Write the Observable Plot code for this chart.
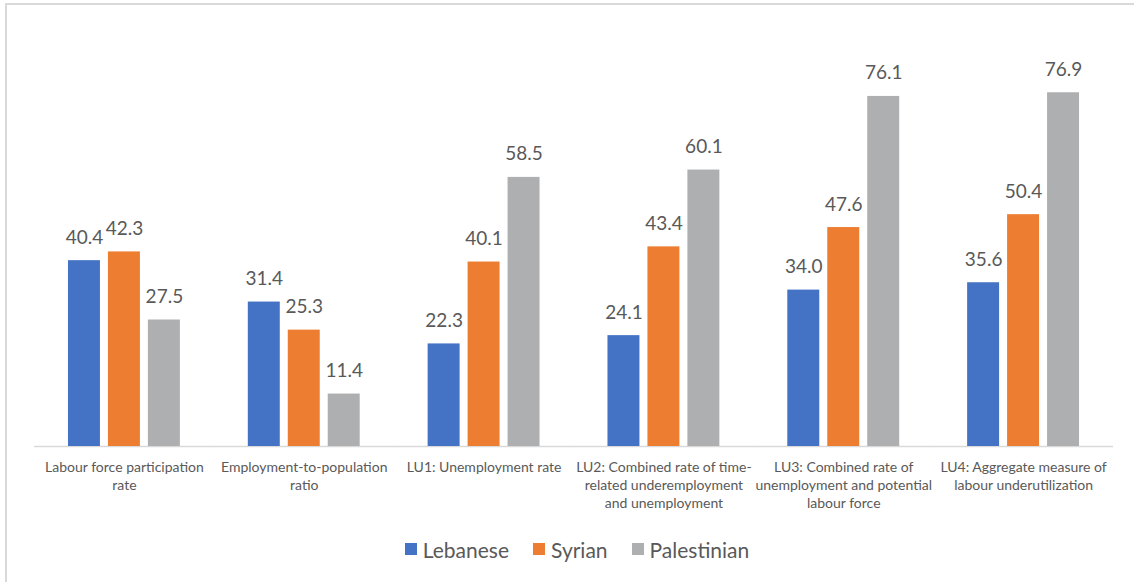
<!DOCTYPE html>
<html>
<head>
<meta charset="utf-8">
<script src="https://cdn.jsdelivr.net/npm/d3@7"></script>
<script src="https://cdn.jsdelivr.net/npm/@observablehq/plot@0.6"></script>
<style>
  html, body { margin: 0; padding: 0; background: #fff; }
  #wrap { position: relative; width: 1134px; height: 582px; overflow: hidden; font-family: Lato, "Open Sans", sans-serif; }
  #frame { position: absolute; left: 5px; top: 3px; width: 1200px; height: 700px; border-left: 2px solid #d9d9d9; border-top: 2px solid #d9d9d9; box-sizing: border-box; }
  #chart { position: absolute; left: 0; top: 0; }
  #legend { position: absolute; left: 0; top: 537px; width: 1134px; height: 24px; display: flex; justify-content: center; align-items: center; gap: 24px; color: #595959; font-size: 21px; padding-left: 20px; box-sizing: border-box; }
  #legend .item { display: flex; align-items: center; }
  #legend .sw { width: 12px; height: 12px; margin-right: 6px; }
</style>
</head>
<body>
<div id="wrap">
  <div id="frame"></div>
  <div id="chart"></div>
  <div id="legend"></div>
</div>
<script>
const categories = [
  "Labour force participation\nrate",
  "Employment-to-population\nratio",
  "LU1: Unemployment rate",
  "LU2: Combined rate of time-\nrelated underemployment\nand unemployment",
  "LU3: Combined rate of\nunemployment and potential\nlabour force",
  "LU4: Aggregate measure of\nlabour underutilization"
];
const series = ["Lebanese", "Syrian", "Palestinian"];
const lebanese = [40.4, 31.4, 22.3, 24.1, 34.0, 35.6];
const syrian = [42.3, 25.3, 40.1, 43.4, 47.6, 50.4];
const palestinian = [27.5, 11.4, 58.5, 60.1, 76.1, 76.9];
const colors = ["#4472C4", "#ED7D31", "#AEAFB1"];

const valuesBySeries = [lebanese, syrian, palestinian];
const data = [];
categories.forEach((c, i) => {
  series.forEach((s, j) => {
    data.push({category: c, series: s, value: valuesBySeries[j][i]});
  });
});

const chart = Plot.plot({
  width: 1134,
  height: 520,
  marginLeft: 34,
  marginRight: 21,
  marginTop: 32,
  marginBottom: 74,
  style: {color: "#595959", fontFamily: "Lato, 'Open Sans', sans-serif", background: "transparent"},
  fx: {domain: categories, paddingInner: 0, paddingOuter: 0, round: false, label: null},
  x: {domain: series, paddingInner: 0.2, paddingOuter: 0.85, round: false, axis: null},
  y: {domain: [0, 90], axis: null},
  color: {domain: series, range: colors},
  marks: [
    Plot.ruleY([0], {stroke: "#d9d9d9", strokeWidth: 1.5}),
    Plot.barY(data, {fx: "category", x: "series", y: "value", fill: "series"}),
    Plot.text(data, {fx: "category", x: "series", y: "value", text: d => d.value.toFixed(1), lineAnchor: "bottom", dy: -17, fontSize: 19, fill: "#595959"}),
    Plot.axisFx({anchor: "bottom", tickSize: 0, tickPadding: 13, fontSize: 14, lineHeight: 18/14, label: null})
  ]
});
document.getElementById("chart").appendChild(chart);

const legend = document.getElementById("legend");
series.forEach((s, j) => {
  const item = document.createElement("div");
  item.className = "item";
  const sw = document.createElement("div");
  sw.className = "sw";
  sw.style.background = colors[j];
  const t = document.createElement("span");
  t.textContent = s;
  item.appendChild(sw);
  item.appendChild(t);
  legend.appendChild(item);
});
</script>
</body>
</html>
